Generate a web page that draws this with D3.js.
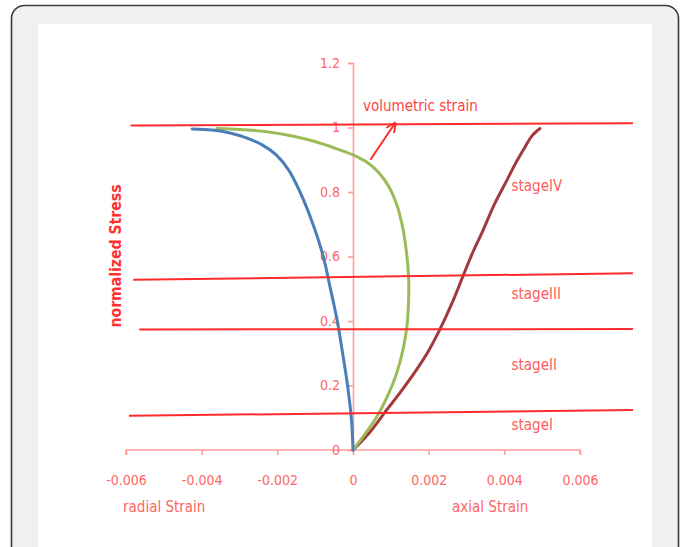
<!DOCTYPE html>
<html>
<head>
<meta charset="utf-8">
<script src="https://cdn.jsdelivr.net/npm/d3@7"></script>
<style>
  body { margin: 0; background: #fff; }
  text { font-family: "Liberation Sans Narrow", "DejaVu Sans Condensed", sans-serif; }
</style>
</head>
<body>
<div id="plot"></div>
<script>
// strain (x) vs normalized stress (y)
var radialStrain = [0, -0.00004, -0.00015, -0.00028, -0.00042, -0.0006, -0.00079, -0.00106, -0.0014, -0.0017, -0.00203, -0.0024, -0.0028, -0.00325, -0.00373, -0.00425]
var radialStress = [0, 0.093, 0.205, 0.304, 0.403, 0.502, 0.602, 0.701, 0.8, 0.868, 0.915, 0.946, 0.967, 0.983, 0.992, 0.995]

var volStrain = [0, 0.00032, 0.00061, 0.0009, 0.00114, 0.00132, 0.00143, 0.00147, 0.00147, 0.0014, 0.0013, 0.00116, 0.00095, 0.00069, 0.00037, 0, -0.00048, -0.00106, -0.00167, -0.00228, -0.00299, -0.0036]
var volStress = [0, 0.05, 0.099, 0.164, 0.233, 0.31, 0.388, 0.465, 0.536, 0.626, 0.698, 0.76, 0.816, 0.859, 0.892, 0.915, 0.936, 0.958, 0.975, 0.987, 0.994, 0.997]

var axialStrain = [0, 0.00045, 0.00085, 0.00124, 0.00164, 0.00198, 0.0023, 0.00262, 0.00291, 0.00317, 0.00344, 0.00373, 0.00407, 0.00433, 0.00455, 0.00473, 0.00494]
var axialStress = [0, 0.056, 0.118, 0.177, 0.242, 0.304, 0.375, 0.456, 0.54, 0.614, 0.682, 0.76, 0.837, 0.896, 0.94, 0.974, 0.997]

// stage boundary lines: [x0, y0, x1, y1]
var stageLines = [
  [-0.00588, 1.006, 0.0074, 1.013],
  [-0.00581, 0.528, 0.0074, 0.548],
  [-0.00565, 0.374, 0.0074, 0.375],
  [-0.00592, 0.106, 0.0074, 0.124]
]
var stageNames = ["stageIV", "stageIII", "stageII", "stageI"]
var stageLabelY = [0.82, 0.485, 0.263, 0.077]
var stageLabelX = 0.00419

var xTicks = [-0.006, -0.004, -0.002, 0, 0.002, 0.004, 0.006]
var yTicks = [0, 0.2, 0.4, 0.6, 0.8, 1, 1.2]

var W = 683, H = 547

var svg = d3.select("#plot")
  .append("svg")
  .attr("width", W)
  .attr("height", H)

// page frame
svg.append("rect")
  .attr("x", 11.5).attr("y", 5.5)
  .attr("width", 667).attr("height", 600)
  .attr("rx", 13)
  .attr("fill", "#eff0f2")
  .attr("stroke", "#3a3a3a")
  .attr("stroke-width", 1.6)
svg.append("rect")
  .attr("x", 38).attr("y", 24)
  .attr("width", 614).attr("height", 600)
  .attr("fill", "#fff")

var xScale = d3.scaleLinear()
  .domain([-0.006, 0.006])
  .range([126, 580])

var yScale = d3.scaleLinear()
  .domain([0, 1.2])
  .range([450, 63])

var axisColor = "#ff9c9c"
var labelColor = "#ff6464"

var xAxis = svg.append("g")
  .attr("transform", "translate(0," + yScale(0) + ")")
  .call(d3.axisBottom(xScale).tickValues(xTicks).tickSize(5).tickPadding(20)
    .tickFormat(d => d === 0 ? "0" : d.toFixed(3)))
xAxis.select(".domain").attr("stroke", axisColor).attr("stroke-width", 1.6)
  .attr("d", "M" + xScale(-0.006) + ",5V0H" + xScale(0.006) + "V5")
xAxis.selectAll(".tick line").attr("stroke", axisColor).attr("stroke-width", 1.6)
xAxis.selectAll(".tick text").attr("fill", labelColor).style("font-size", "14px")

var yAxis = svg.append("g")
  .attr("transform", "translate(" + xScale(0) + ",0)")
  .call(d3.axisLeft(yScale).tickValues(yTicks).tickSize(5).tickPadding(8)
    .tickFormat(d => d3.format("~g")(d)))
yAxis.select(".domain").attr("stroke", axisColor).attr("stroke-width", 1.6)
yAxis.selectAll(".tick line").attr("stroke", axisColor).attr("stroke-width", 1.6)
yAxis.selectAll(".tick text").attr("fill", labelColor).style("font-size", "14px")
yAxis.attr("font-family", null)
xAxis.attr("font-family", null)

var series = [
  { strain: axialStrain, stress: axialStress, color: "#a3393b" },
  { strain: volStrain, stress: volStress, color: "#9bbb59" },
  { strain: radialStrain, stress: radialStress, color: "#4a7ebb" }
]

var line = d3.line()
  .x(d => xScale(d[0]))
  .y(d => yScale(d[1]))
  .curve(d3.curveCatmullRom.alpha(0.5))

series.forEach(function (s) {
  svg.append("path")
    .datum(s.strain.map((v, i) => [v, s.stress[i]]))
    .attr("fill", "none")
    .attr("stroke", s.color)
    .attr("stroke-width", 3)
    .attr("stroke-linecap", "round")
    .attr("d", line)
})

svg.selectAll(".stage-line")
  .data(stageLines)
  .enter()
  .append("line")
    .attr("class", "stage-line")
    .attr("x1", d => xScale(d[0]))
    .attr("y1", d => yScale(d[1]))
    .attr("x2", d => xScale(d[2]))
    .attr("y2", d => yScale(d[3]))
    .attr("stroke", "#ff2a2a")
    .attr("stroke-width", 2)

svg.selectAll(".stage-label")
  .data(stageNames)
  .enter()
  .append("text")
    .attr("class", "stage-label")
    .attr("x", xScale(stageLabelX))
    .attr("y", (d, i) => yScale(stageLabelY[i]))
    .attr("dy", "0.35em")
    .attr("fill", "#ff5c5c")
    .style("font-size", "15px")
    .text(d => d)

// volumetric strain annotation with arrow
var arrowFrom = [0.00046, 0.9], arrowTo = [0.00111, 1.013]
svg.append("defs").append("marker")
  .attr("id", "head")
  .attr("viewBox", "0 0 10 10")
  .attr("refX", 9).attr("refY", 5)
  .attr("markerWidth", 5).attr("markerHeight", 5)
  .attr("orient", "auto")
  .append("path")
    .attr("d", "M0,0L10,5L0,10")
    .attr("fill", "none")
    .attr("stroke", "#ff2a2a")
    .attr("stroke-width", 2)
svg.append("line")
  .attr("x1", xScale(arrowFrom[0])).attr("y1", yScale(arrowFrom[1]))
  .attr("x2", xScale(arrowTo[0])).attr("y2", yScale(arrowTo[1]))
  .attr("stroke", "#ff2a2a")
  .attr("stroke-width", 2)
  .attr("marker-end", "url(#head)")

svg.append("text")
  .attr("x", 363).attr("y", 106)
  .attr("dy", "0.35em")
  .attr("fill", "#ff4545")
  .style("font-size", "15px")
  .text("volumetric strain")

svg.append("text")
  .attr("x", 123).attr("y", 507)
  .attr("dy", "0.35em")
  .attr("fill", labelColor)
  .style("font-size", "15px")
  .text("radial Strain")

svg.append("text")
  .attr("x", 452).attr("y", 507)
  .attr("dy", "0.35em")
  .attr("fill", labelColor)
  .style("font-size", "15px")
  .text("axial Strain")

svg.append("text")
  .attr("transform", "translate(116,256) rotate(-90)")
  .attr("text-anchor", "middle")
  .attr("dy", "0.35em")
  .attr("fill", "#ff3030")
  .style("font-size", "15px")
  .style("font-weight", "bold")
  .attr("textLength", 143)
  .attr("lengthAdjust", "spacingAndGlyphs")
  .text("normalized Stress")
</script>
</body>
</html>
